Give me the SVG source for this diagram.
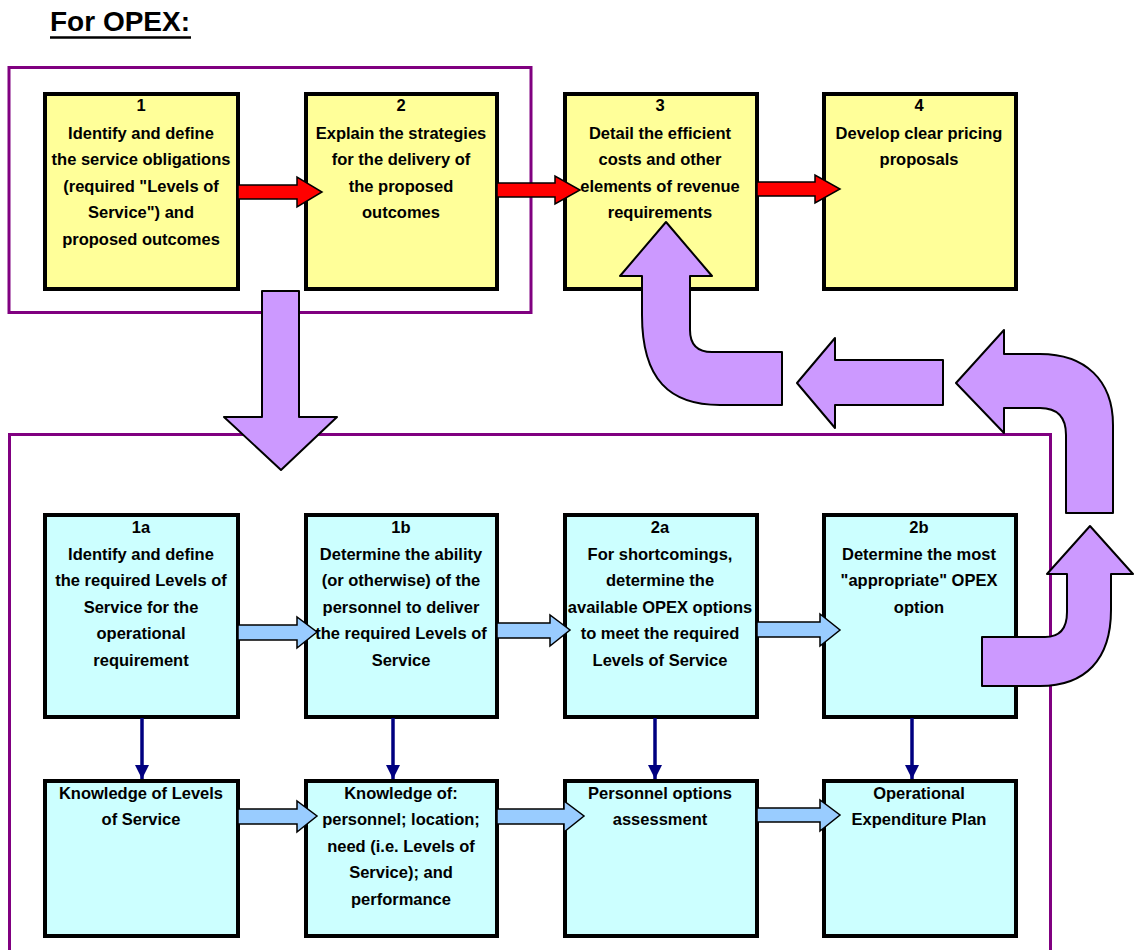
<svg xmlns="http://www.w3.org/2000/svg" width="1136" height="950" viewBox="0 0 1136 950">
<defs>
<style>
.t{font-family:"Liberation Sans","DejaVu Sans",sans-serif;font-weight:bold;font-size:16.5px;fill:#000;text-anchor:middle}
.y{fill:#FFFF99;stroke:#000;stroke-width:4}
.c{fill:#CCFFFF;stroke:#000;stroke-width:4}
.fr{fill:none;stroke:#800080;stroke-width:3}
.red{fill:#FF0000;stroke:#000;stroke-width:1.5;stroke-linejoin:miter}
.lb{fill:#99CCFF;stroke:#000;stroke-width:1.5}
.pu{fill:#CC99FF;stroke:#000;stroke-width:2;stroke-linejoin:round}
.nv{stroke:#000080;stroke-width:3.5;fill:none}
</style>
<marker id="nh" viewBox="0 0 10 10" refX="10" refY="5" markerWidth="4" markerHeight="4" markerUnits="strokeWidth" orient="auto">
<path d="M0,0 L10,5 L0,10 Z" fill="#000080"/>
</marker>
</defs>
<rect width="1136" height="950" fill="#fff"/>
<g id="title">
<text x="50" y="31" style="font-family:'Liberation Sans','DejaVu Sans',sans-serif;font-weight:bold;font-size:28px">For OPEX:</text>
<line x1="50" y1="37.5" x2="191" y2="37.5" stroke="#000" stroke-width="2.5"/>
</g>
<g id="frames">
<rect class="fr" x="9" y="67.5" width="522" height="245"/>
<path class="fr" d="M9.5,955 L9.5,434.5 L1050.5,434.5 L1050.5,955"/>
</g>
<g id="n1"><rect class="y" x="45" y="94" width="193" height="195"/>
<text class="t"><tspan x="141" y="111">1</tspan><tspan x="141" y="139">Identify and define</tspan><tspan x="141" y="165">the service obligations</tspan><tspan x="141" y="192">(required "Levels of</tspan><tspan x="141" y="218">Service") and</tspan><tspan x="141" y="245">proposed outcomes</tspan></text></g>
<g id="n2"><rect class="y" x="306" y="94" width="191" height="195"/>
<text class="t"><tspan x="401" y="111">2</tspan><tspan x="401" y="139">Explain the strategies</tspan><tspan x="401" y="165">for the delivery of</tspan><tspan x="401" y="192">the proposed</tspan><tspan x="401" y="218">outcomes</tspan></text></g>
<g id="n3"><rect class="y" x="565" y="94" width="192" height="195"/>
<text class="t"><tspan x="660" y="111">3</tspan><tspan x="660" y="139">Detail the efficient</tspan><tspan x="660" y="165">costs and other</tspan><tspan x="660" y="192">elements of revenue</tspan><tspan x="660" y="218">requirements</tspan></text></g>
<g id="n4"><rect class="y" x="824" y="94" width="192" height="195"/>
<text class="t"><tspan x="919" y="111">4</tspan><tspan x="919" y="139">Develop clear pricing</tspan><tspan x="919" y="165">proposals</tspan></text></g>
<g id="n1a"><rect class="c" x="45" y="515" width="193" height="202"/>
<text class="t"><tspan x="141" y="533">1a</tspan><tspan x="141" y="560">Identify and define</tspan><tspan x="141" y="586">the required Levels of</tspan><tspan x="141" y="613">Service for the</tspan><tspan x="141" y="639">operational</tspan><tspan x="141" y="666">requirement</tspan></text></g>
<g id="n1b"><rect class="c" x="306" y="515" width="191" height="202"/>
<text class="t"><tspan x="401" y="533">1b</tspan><tspan x="401" y="560">Determine the ability</tspan><tspan x="401" y="586">(or otherwise) of the</tspan><tspan x="401" y="613">personnel to deliver</tspan><tspan x="401" y="639">the required Levels of</tspan><tspan x="401" y="666">Service</tspan></text></g>
<g id="n2a"><rect class="c" x="565" y="515" width="192" height="202"/>
<text class="t"><tspan x="660" y="533">2a</tspan><tspan x="660" y="560">For shortcomings,</tspan><tspan x="660" y="586">determine the</tspan><tspan x="660" y="613">available OPEX options</tspan><tspan x="660" y="639">to meet the required</tspan><tspan x="660" y="666">Levels of Service</tspan></text></g>
<g id="n2b"><rect class="c" x="824" y="515" width="192" height="202"/>
<text class="t"><tspan x="919" y="533">2b</tspan><tspan x="919" y="560">Determine the most</tspan><tspan x="919" y="586">"appropriate" OPEX</tspan><tspan x="919" y="613">option</tspan></text></g>
<g id="k1"><rect class="c" x="45" y="781" width="193" height="155"/>
<text class="t"><tspan x="141" y="799">Knowledge of Levels</tspan><tspan x="141" y="825">of Service</tspan></text></g>
<g id="k2"><rect class="c" x="306" y="781" width="191" height="155"/>
<text class="t"><tspan x="401" y="799">Knowledge of:</tspan><tspan x="401" y="825">personnel; location;</tspan><tspan x="401" y="852">need (i.e. Levels of</tspan><tspan x="401" y="878">Service); and</tspan><tspan x="401" y="905">performance</tspan></text></g>
<g id="k3"><rect class="c" x="565" y="781" width="192" height="155"/>
<text class="t"><tspan x="660" y="799">Personnel options</tspan><tspan x="660" y="825">assessment</tspan></text></g>
<g id="k4"><rect class="c" x="824" y="781" width="192" height="155"/>
<text class="t"><tspan x="919" y="799">Operational</tspan><tspan x="919" y="825">Expenditure Plan</tspan></text></g>
<g id="connectors">
<polygon class="red" points="238,185 297,185 297,177 322,192 297,207 297,199 238,199"/>
<polygon class="red" points="497,183 555,183 555,176 580,190 555,204 555,197 497,197"/>
<polygon class="red" points="757,182 815,182 815,175 840,189 815,203 815,196 757,196"/>
<polygon class="lb" points="238,625 297,625 297,617 317,632 297,648 297,640 238,640"/>
<polygon class="lb" points="497,623 550,623 550,615 570,630 550,646 550,638 497,638"/>
<polygon class="lb" points="757,622 820,622 820,614 840,630 820,646 820,637 757,637"/>
<polygon class="lb" points="238,809 297,809 297,801 317,816 297,832 297,824 238,824"/>
<polygon class="lb" points="497,809 564,809 564,801 584,816 564,832 564,824 497,824"/>
<polygon class="lb" points="757,808 820,808 820,800 840,815 820,831 820,822 757,822"/>
<line class="nv" x1="142" y1="718" x2="142" y2="779" marker-end="url(#nh)"/>
<line class="nv" x1="393" y1="718" x2="393" y2="779" marker-end="url(#nh)"/>
<line class="nv" x1="655" y1="718" x2="655" y2="779" marker-end="url(#nh)"/>
<line class="nv" x1="912" y1="718" x2="912" y2="779" marker-end="url(#nh)"/>
<path class="pu" d="M262,291 L299,291 L299,417 L337,417 L281,470 L224,417 L262,417 Z"/>
<path class="pu" d="M666,222 L712,276 L690,276 L690,330 C690,345 697,352 712,352 L782,352 L782,405 L720,405 C670,405 642,380 642,315 L642,276 L620,276 Z"/>
<path class="pu" d="M797,383 L835,338 L835,360 L943,360 L943,405 L835,405 L835,428 Z"/>
<path class="pu" d="M956,383 L1004,330 L1004,354 L1040,354 C1085,354 1113,380 1113,425 L1113,513 L1066,513 L1066,435 C1066,418 1058,408 1040,408 L1004,408 L1004,433 Z"/>
<path class="pu" d="M1090,526 L1133,574 L1111,574 L1111,610 C1111,660 1085,686 1040,686 L982,686 L982,637 L1045,637 C1060,637 1067,628 1067,612 L1067,574 L1047,574 Z"/>
</g>
</svg>
